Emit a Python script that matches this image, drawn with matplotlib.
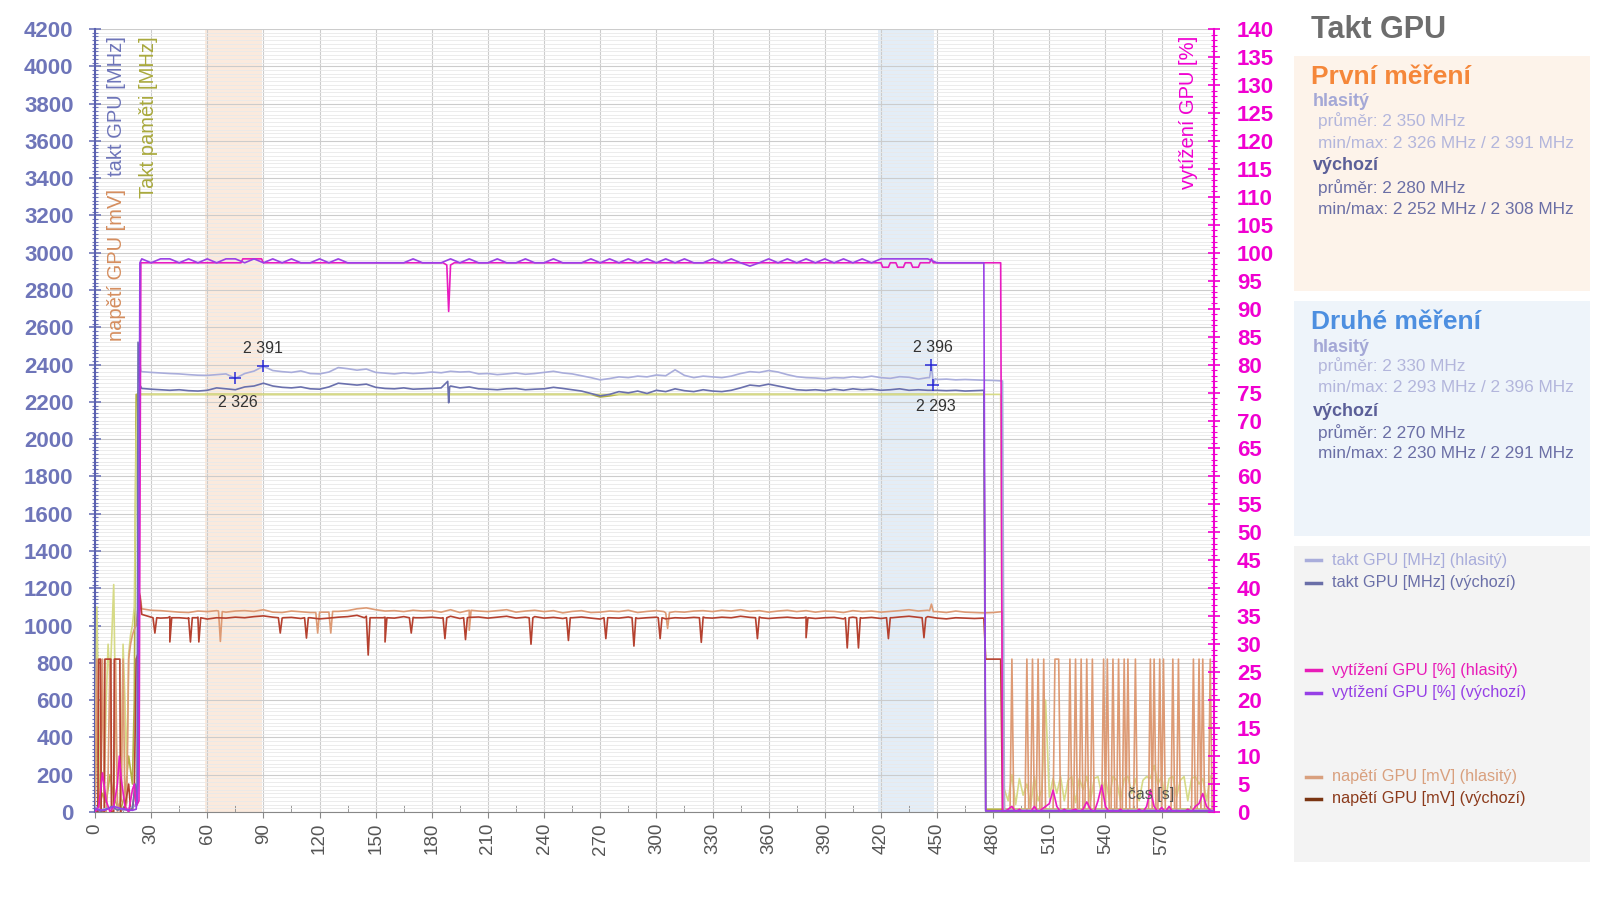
import matplotlib.pyplot as plt
import matplotlib.ticker as mticker
from matplotlib.patches import Rectangle
from matplotlib.lines import Line2D

# DATA

# time grids [s]
T_DEFAULT = list(range(25, 480, 5))      # vychozi run, 25..475
T_LOUD = list(range(25, 490, 5))         # hlasity run, 25..485
T_TAIL_1S = list(range(487, 599))        # idle part, 1 s samples
T_TAIL_2S = list(range(486, 599, 2))     # idle part, 2 s samples

# takt GPU [MHz] (hlasity)
clock_loud_start_t = [0, 3, 6, 9, 12, 15, 18, 21, 22.5, 23.5, 24.5]
clock_loud_start_v = [30, 10, 20, 15, 25, 10, 20, 30, 60, 2450, 2365]
clock_loud = [
    2362, 2358, 2355, 2352, 2350, 2346, 2343, 2342, 2346, 2350,
    2326, 2352, 2365, 2391, 2368, 2362, 2358, 2366, 2352, 2350,
    2360, 2384, 2378, 2370, 2376, 2358, 2354, 2350, 2356, 2352,
    2355, 2360, 2356, 2364, 2360, 2362, 2350, 2352, 2346, 2350,
    2355, 2348, 2352, 2358, 2364, 2355, 2350, 2340, 2330, 2318,
    2325, 2334, 2330, 2338, 2334, 2344, 2340, 2372, 2342, 2330,
    2338, 2334, 2330, 2338, 2352, 2362, 2358, 2368, 2360, 2346,
    2335, 2330, 2328, 2324, 2330, 2328, 2335, 2330, 2338, 2330,
    2326, 2335, 2332, 2322, 2330, 2320, 2322, 2318, 2320, 2318,
    2316, 2315, 2312,
]
clock_loud_extra_t = [446, 447, 448, 449, 486, 598]
clock_loud_extra_v = [2330, 2396, 2293, 2325, 10, 10]

# takt GPU [MHz] (vychozi)
clock_def_start_t = [0, 3, 6, 9, 12, 15, 18, 20, 21.5, 22.5, 23, 24]
clock_def_start_v = [20, 5, 15, 30, 10, 20, 5, 15, 150, 40, 2520, 2290]
clock_def = [
    2272, 2268, 2265, 2262, 2265, 2260, 2258, 2262, 2275, 2270,
    2265, 2280, 2285, 2300, 2285, 2278, 2275, 2280, 2270, 2268,
    2280, 2300, 2295, 2290, 2295, 2278, 2272, 2270, 2275, 2268,
    2270, 2272, 2275, 2285, 2275, 2280, 2270, 2268, 2265, 2270,
    2272, 2265, 2268, 2270, 2278, 2272, 2265, 2258, 2245, 2232,
    2240, 2255, 2248, 2258, 2245, 2262, 2255, 2270, 2260, 2255,
    2265, 2258, 2255, 2262, 2275, 2290, 2285, 2295, 2285, 2275,
    2265, 2262, 2265, 2260, 2268, 2262, 2270, 2265, 2268, 2262,
    2265, 2270, 2262, 2265, 2262, 2262, 2260, 2262, 2258, 2260,
    2262,
]
clock_def_extra_t = [188.5, 189, 189.5, 476, 598]
clock_def_extra_v = [2310, 2195, 2280, 5, 5]

# takt pameti [MHz]
mem_def_t = [0, 1, 2, 3, 4, 6, 8, 10, 12, 14, 16, 18, 20, 21,
             22, 265, 270, 275, 280, 475, 476, 598]
mem_def_v = [0, 600, 200, 50, 100, 50, 200, 80, 30, 20, 100, 300, 150, 600,
             2240, 2240, 2226, 2232, 2240, 2240, 15, 15]
mem_loud_t = [0, 1, 2, 3, 4, 5, 6, 7, 8, 9, 10, 11, 12, 13, 14, 15, 16,
              17, 18, 19, 20, 21, 22, 23, 484, 485]
mem_loud_v = [0, 1100, 500, 100, 200, 150, 600, 900, 700, 950, 1220, 500,
              50, 20, 150, 900, 600, 200, 850, 950, 1000, 1100, 2000, 2240,
              2240, 150]
mem_loud_tail = [
    120, 60, 200, 40, 180, 90, 150, 30, 190, 60,
    120, 600, 80, 180, 100, 190, 60, 170, 190, 50,
    180, 120, 190, 60, 180, 190, 90, 180, 70, 190,
    170, 60, 180, 190, 100, 180, 60, 170, 190, 180,
    250, 150, 190, 60, 180, 190, 80, 170, 190, 60,
    180, 190, 150, 180, 60, 190, 180,
]

# napeti GPU [mV] (hlasity)
volt_loud_start_t = [0, 1, 2, 3, 4, 5, 6, 7, 8, 9, 10, 11, 12, 13, 14, 15,
                     16, 17, 18, 19, 20, 21, 22, 23, 24]
volt_loud_start_v = [0, 820, 50, 0, 820, 20, 0, 200, 820, 0, 30, 820, 0, 40,
                     60, 820, 10, 50, 820, 900, 950, 980, 1000, 1100, 1170]
volt_loud = [
    1090, 1082, 1080, 1076, 1072, 1070, 1078, 1075, 1080, 1072,
    1078, 1080, 1076, 1085, 1072, 1070, 1078, 1074, 1070, 1068,
    1072, 1076, 1080, 1090, 1095, 1085, 1078, 1080, 1075, 1082,
    1078, 1080, 1072, 1085, 1070, 1082, 1078, 1075, 1080, 1085,
    1072, 1078, 1082, 1075, 1080, 1068, 1076, 1080, 1070, 1072,
    1078, 1075, 1082, 1070, 1076, 1080, 1068, 1075, 1072, 1078,
    1080, 1075, 1082, 1078, 1085, 1076, 1080, 1072, 1078, 1082,
    1075, 1080, 1072, 1078, 1076, 1070, 1080, 1075, 1078, 1072,
    1076, 1080, 1085, 1078, 1082, 1075, 1070, 1078, 1072, 1070,
    1068, 1070, 1075,
]
volt_loud_dip_t = [66, 67, 68, 118, 119, 120, 125, 126, 127, 199, 200, 201,
                   304, 306, 307, 446, 447, 448, 486]
volt_loud_dip_v = [1078, 915, 1075, 1070, 960, 1072, 1072, 960, 1076, 1080,
                   975, 1082, 1075, 985, 1070, 1080, 1115, 1075, 0]
volt_loud_tail = [
    0, 0, 0, 820, 0, 0, 0, 0, 0, 0,
    0, 820, 0, 0, 820, 0, 0, 820, 0, 0,
    820, 0, 0, 0, 0, 0, 820, 820, 820, 0,
    0, 0, 0, 0, 820, 0, 0, 820, 0, 0,
    820, 0, 0, 820, 0, 0, 820, 0, 0, 0,
    0, 0, 820, 0, 820, 0, 0, 820, 0, 0,
    820, 0, 0, 820, 0, 820, 0, 0, 0, 820,
    0, 0, 0, 0, 0, 0, 0, 820, 0, 820,
    0, 0, 820, 0, 820, 0, 0, 0, 0, 820,
    0, 0, 820, 0, 0, 0, 0, 0, 0, 0,
    820, 0, 0, 820, 0, 820, 0, 0, 0, 820,
    0, 0,
]

# napeti GPU [mV] (vychozi)
volt_def_start_t = [0, 1.5, 2, 3, 3.3, 5, 5.3, 8.5, 8.8, 10, 10.3, 13.3,
                    13.6, 16, 18, 19, 20, 21, 22, 23, 24]
volt_def_start_v = [0, 0, 820, 820, 0, 0, 820, 820, 0, 0, 820, 820, 0, 30,
                    150, 20, 10, 100, 820, 850, 1160]
volt_def = [
    1060, 1045, 1040, 1048, 1042, 1038, 1045, 1035, 1042, 1040,
    1045, 1042, 1048, 1052, 1045, 1040, 1044, 1038, 1042, 1036,
    1040, 1045, 1048, 1055, 1050, 1042, 1045, 1040, 1048, 1044,
    1042, 1045, 1040, 1050, 1038, 1044, 1046, 1040, 1045, 1050,
    1040, 1045, 1048, 1040, 1044, 1038, 1042, 1046, 1040, 1035,
    1042, 1040, 1046, 1038, 1042, 1045, 1036, 1042, 1040, 1044,
    1046, 1040, 1045, 1042, 1050, 1044, 1046, 1038, 1042, 1045,
    1040, 1046, 1038, 1042, 1044, 1036, 1045, 1040, 1044, 1038,
    1042, 1046, 1050, 1044, 1048, 1040, 1036, 1042, 1040, 1038,
    1040,
]
volt_def_dip_t = [31, 32, 33, 39, 40, 41, 50, 51, 52, 54.5, 55.5, 56.5,
                  98, 99, 100.5, 112, 113, 114, 144, 146, 147, 154, 155, 156,
                  168, 169, 171, 186, 187, 188, 197, 198, 199, 232, 233, 234,
                  252, 253, 254, 272, 273, 274, 287, 288, 289, 301, 302, 303,
                  323, 324, 326, 353, 354, 356, 379, 380, 381, 401, 402, 403,
                  407, 408, 409, 423, 424, 426, 442, 443, 444,
                  476, 484, 485, 598]
volt_def_dip_v = [1042, 960, 1042, 1042, 912, 1042, 1042, 912, 1042, 1042,
                  912, 1042, 1042, 960, 1042, 1042, 933, 1042, 1042, 842,
                  1042, 1042, 912, 1042, 1042, 960, 1042, 1042, 930, 1042,
                  1042, 925, 1042, 1042, 900, 1042, 1042, 920, 1042, 1042,
                  930, 1042, 1042, 890, 1042, 1042, 930, 1042, 1042, 910,
                  1042, 1042, 930, 1042, 1042, 935, 1042, 1042, 880, 1042,
                  1042, 880, 1042, 1042, 930, 1042, 1042, 935, 1042,
                  820, 820, 0, 0]

# vytizeni GPU [%] (hlasity)
util_loud_t = [0, 2, 4, 6, 8, 10, 12, 13, 14, 16, 18, 20, 21, 22, 23.5,
               24.5, 78, 79, 89, 90, 186, 188, 189, 190, 192, 420, 421, 424,
               425, 428, 429, 432, 433, 436, 437, 440, 441, 446, 447, 448,
               484, 485]
util_loud_v = [0, 1, 7, 2, 0, 1, 5, 10, 6, 1, 0, 4, 5, 1, 2,
               98.2, 98.2, 98.9, 98.9, 98.2, 98.2, 97.8, 89.5, 97.8, 98.2,
               98.2, 97.4, 97.4, 98.2, 98.2, 97.4, 97.4, 98.2, 98.2, 97.4,
               97.4, 98.2, 98.2, 98.9, 98.2, 98.2, 0]
util_loud_tail = [
    0, 0.5, 1, 0, 0.5, 0, 0.3, 0, 1, 0,
    0.5, 1, 1.5, 3.9, 1, 0, 0.5, 0, 0.3, 0.5,
    0, 0.5, 1.8, 0.5, 0, 2, 4.8, 1, 0, 0.3,
    0, 0.5, 0, 0.3, 0, 0, 0.5, 0, 1, 4,
    1, 0, 0.8, 0, 1, 0, 0.3, 0, 0, 0.5,
    0, 1, 1.5, 3.3, 1, 0.3, 0,
]

# vytizeni GPU [%] (vychozi)
util_def_start_t = [0, 5, 10, 15, 20, 22, 23, 24]
util_def_start_v = [0.5, 0.3, 1, 0.5, 0.3, 0.5, 5, 98.2]
util_def = [
    98.9, 98.2, 98.9, 98.9, 98.2, 98.9, 98.2, 98.9, 98.2, 98.9,
    98.9, 98.2, 98.9, 98.2, 98.9, 98.2, 98.9, 98.2, 98.2, 98.9,
    98.2, 98.9, 98.2, 98.2, 98.2, 98.2, 98.2, 98.2, 98.2, 98.9,
    98.2, 98.2, 98.2, 98.9, 98.2, 98.9, 98.2, 98.2, 98.9, 98.2,
    98.2, 98.9, 98.2, 98.2, 98.9, 98.2, 98.2, 98.2, 98.9, 98.2,
    98.9, 98.2, 98.9, 98.2, 98.9, 98.2, 98.9, 98.2, 98.9, 98.2,
    98.2, 98.9, 98.2, 98.9, 98.2, 97.6, 98.2, 98.9, 98.2, 98.9,
    98.2, 98.9, 98.2, 98.9, 98.2, 98.9, 98.2, 98.9, 98.2, 98.9,
    98.9, 98.9, 98.9, 98.9, 98.9, 98.2, 98.2, 98.2, 98.2, 98.2,
    98.2,
]
util_def_end_t = [476, 598]
util_def_end_v = [0.2, 0.2]

# min / max markers
mark_t = [75, 90, 447, 448]
mark_v = [2326, 2391, 2396, 2293]
mark_labels = ["2 326", "2 391", "2 396", "2 293"]
mark_offsets = [(3, -24), (0, 18), (1, 18), (3, -22)]

# highlighted measuring windows [s]
window_first = (59, 89)
window_second = (418.5, 448.5)

# side panel texts
panel_first = ["2 350 MHz", "2 326 MHz / 2 391 MHz", "2 280 MHz", "2 252 MHz / 2 308 MHz"]
panel_second = ["2 330 MHz", "2 293 MHz / 2 396 MHz", "2 270 MHz", "2 230 MHz / 2 291 MHz"]

legend_labels = [
    "takt GPU [MHz] (hlasitý)", "takt GPU [MHz] (výchozí)",
    "vytížení GPU [%] (hlasitý)", "vytížení GPU [%] (výchozí)",
    "napětí GPU [mV] (hlasitý)", "napětí GPU [mV] (výchozí)",
]

# COLOURS

C_CLOCK_LOUD = "#a9addb"
C_CLOCK_DEF = "#6a70ad"
C_MEM_DEF = "#b3b043"
C_MEM_LOUD = "#d6da86"
C_VOLT_LOUD = "#dd9a74"
C_VOLT_DEF = "#b5412f"
C_UTIL_LOUD = "#e81cc0"
C_UTIL_DEF = "#9a40e6"
C_LEFT = "#6e75b9"
C_RIGHT = "#f000d0"

W, H = 1600, 898


def merge(*parts):
    pts = []
    for t, v in parts:
        pts += list(zip(t, v))
    pts.sort(key=lambda p: p[0])
    return [p[0] for p in pts], [p[1] for p in pts]


def fx(x):
    return x / W


def fy(y):
    return 1 - y / H


def main():

    plt.rcParams["font.family"] = ["Liberation Sans", "DejaVu Sans"]

    fig = plt.figure(figsize=(16, 8.98), dpi=100)

    ax = fig.add_axes([fx(95), fy(812), (1214 - 95) / W, (812 - 29) / H])
    ax2 = ax.twinx()

    # SHADED WINDOWS

    ax.axvspan(*window_first, color="#fbeadd", zorder=0, lw=0)
    ax.axvspan(*window_second, color="#e3edf7", zorder=0, lw=0)

    # LEFT AXIS LINES

    lw = 1.2

    t, v = merge((mem_def_t, mem_def_v))
    ax.plot(t, v, color=C_MEM_DEF, lw=lw, zorder=3)

    t, v = merge((mem_loud_t, mem_loud_v), (T_TAIL_2S, mem_loud_tail))
    ax.plot(t, v, color=C_MEM_LOUD, lw=lw, zorder=3)

    t, v = merge((volt_loud_start_t, volt_loud_start_v), (T_LOUD, volt_loud),
                 (volt_loud_dip_t, volt_loud_dip_v), (T_TAIL_1S, volt_loud_tail))
    ax.plot(t, v, color=C_VOLT_LOUD, lw=lw, zorder=3)

    t, v = merge((volt_def_start_t, volt_def_start_v), (T_DEFAULT, volt_def),
                 (volt_def_dip_t, volt_def_dip_v))
    ax.plot(t, v, color=C_VOLT_DEF, lw=lw, zorder=3)

    t, v = merge((clock_loud_start_t, clock_loud_start_v), (T_LOUD, clock_loud),
                 (clock_loud_extra_t, clock_loud_extra_v))
    ax.plot(t, v, color=C_CLOCK_LOUD, lw=lw, zorder=4)

    t, v = merge((clock_def_start_t, clock_def_start_v), (T_DEFAULT, clock_def),
                 (clock_def_extra_t, clock_def_extra_v))
    ax.plot(t, v, color=C_CLOCK_DEF, lw=lw, zorder=4)

    # MARKERS

    ax.plot(mark_t, mark_v, "+", color="#2b2bd6", ms=8, mew=1.1, zorder=6)

    for mt, mv, lab, off in zip(mark_t, mark_v, mark_labels, mark_offsets):
        ax.annotate(lab, (mt, mv), xytext=off, textcoords="offset pixels",
                    ha="center", va="center", fontsize=11.5, color="#333333")

    # RIGHT AXIS LINES

    t, v = merge((util_loud_t, util_loud_v), (T_TAIL_2S, util_loud_tail))
    ax2.plot(t, v, color=C_UTIL_LOUD, lw=lw, zorder=5)

    t, v = merge((util_def_start_t, util_def_start_v), (T_DEFAULT, util_def),
                 (util_def_end_t, util_def_end_v))
    ax2.plot(t, v, color=C_UTIL_DEF, lw=lw, zorder=5)

    # AXES

    ax.set_xlim(0, 598)
    ax.set_ylim(0, 4200)
    ax2.set_ylim(0, 140)

    ax.xaxis.set_major_locator(mticker.MultipleLocator(30))
    ax.xaxis.set_minor_locator(mticker.MultipleLocator(15))
    ax.yaxis.set_major_locator(mticker.MultipleLocator(200))
    ax.yaxis.set_minor_locator(mticker.MultipleLocator(20))
    ax2.yaxis.set_major_locator(mticker.MultipleLocator(5))
    ax2.yaxis.set_minor_locator(mticker.MultipleLocator(1))

    ax.grid(True, which="major", color="#cccccc", lw=0.8, zorder=1)
    ax.grid(True, which="minor", axis="y", color="#e9e9e9", lw=0.6, zorder=1)
    ax.set_axisbelow(True)

    ax.tick_params(axis="y", which="major", direction="inout", length=9,
                   width=1.2, color=C_LEFT, labelcolor=C_LEFT, labelsize=16,
                   pad=11)
    ax.tick_params(axis="y", which="minor", direction="inout", length=5,
                   width=0.8, color=C_LEFT)
    for lab in ax.get_yticklabels():
        lab.set_fontweight("bold")

    ax.tick_params(axis="x", which="major", direction="out", length=4,
                   color="#888888", labelcolor="#555555", labelsize=13.5,
                   labelrotation=90, pad=4)
    ax.tick_params(axis="x", which="minor", direction="in", length=5,
                   color="#888888")

    ax2.tick_params(axis="y", which="major", direction="inout", length=9,
                    width=1.2, color=C_RIGHT, labelcolor=C_RIGHT, labelsize=16,
                    pad=12)
    ax2.tick_params(axis="y", which="minor", direction="inout", length=5,
                    width=0.8, color=C_RIGHT)
    for lab in ax2.get_yticklabels():
        lab.set_fontweight("bold")

    for s in ["top", "right"]:
        ax.spines[s].set_visible(False)
    for s in ["top", "left", "bottom"]:
        ax2.spines[s].set_visible(False)
    ax.spines["left"].set_color("#5a60b0")
    ax.spines["left"].set_linewidth(1.5)
    ax.spines["bottom"].set_color("#888888")
    ax2.spines["right"].set_color(C_RIGHT)
    ax2.spines["right"].set_linewidth(1.5)

    # AXIS TITLES INSIDE THE PLOT

    fig.text(fx(117), fy(36), "takt GPU [MHz]", rotation=90, ha="center",
             va="top", color=C_LEFT, fontsize=14.5)
    fig.text(fx(148), fy(36), "Takt paměti [MHz]", rotation=90, ha="center",
             va="top", color="#a9a93c", fontsize=14.5)
    fig.text(fx(117), fy(189), "napětí GPU [mV]", rotation=90, ha="center",
             va="top", color="#d58e5f", fontsize=14.5)
    fig.text(fx(1189), fy(36), "vytížení GPU [%]", rotation=90, ha="center",
             va="top", color=C_RIGHT, fontsize=14.5)
    fig.text(fx(1151), fy(795), "čas [s]", ha="center", va="center",
             color="#555555", fontsize=11.5)

    # SIDE PANEL

    fig.text(fx(1311), fy(30), "Takt GPU", ha="left", va="center",
             color="#6d6d6d", fontsize=22, fontweight="bold")

    boxes = [(56, 291, "#fdf3ea"), (301, 536, "#eef4fa"), (546, 862, "#f3f3f3")]
    for y0, y1, col in boxes:
        fig.add_artist(Rectangle((fx(1294), fy(y1)), (1590 - 1294) / W,
                                 (y1 - y0) / H, transform=fig.transFigure,
                                 facecolor=col, edgecolor="none", zorder=0))

    blocks = [
        ("První měření", "#f5873a", 77, panel_first),
        ("Druhé měření", "#4d8fe0", 322, panel_second),
    ]
    for title, col, y0, vals in blocks:
        fig.text(fx(1311), fy(y0), title, ha="left", va="center", color=col,
                 fontsize=19, fontweight="bold")
        fig.text(fx(1313), fy(y0 + 25), "hlasitý", ha="left", va="center",
                 color="#a4a8d6", fontsize=13, fontweight="bold")
        fig.text(fx(1318), fy(y0 + 44), "průměr: " + vals[0], ha="left",
                 va="center", color="#b3b6dc", fontsize=12.4)
        fig.text(fx(1318), fy(y0 + 66), "min/max: " + vals[1], ha="left",
                 va="center", color="#b3b6dc", fontsize=12.4)
        fig.text(fx(1313), fy(y0 + 89), "výchozí", ha="left", va="center",
                 color="#5b5f98", fontsize=13, fontweight="bold")
        fig.text(fx(1318), fy(y0 + 111), "průměr: " + vals[2], ha="left",
                 va="center", color="#6b6fa6", fontsize=12.4)
        fig.text(fx(1318), fy(y0 + 132), "min/max: " + vals[3], ha="left",
                 va="center", color="#6b6fa6", fontsize=12.4)

    # LEGEND

    legend_y = [560, 583, 670, 693, 777, 799]
    legend_line = ["#a9addb", "#6a6fa8", "#e81cb8", "#9640e6", "#d9a07e", "#7a3512"]
    legend_text = ["#a9addb", "#6a6fa8", "#e81cb8", "#9640e6", "#d9a07e", "#8c3b1c"]
    for yy, lab, lc, tc in zip(legend_y, legend_labels, legend_line, legend_text):
        fig.add_artist(Line2D([fx(1306), fx(1321)], [fy(yy), fy(yy)],
                              transform=fig.transFigure, color=lc, lw=2.5))
        fig.text(fx(1332), fy(yy), lab, ha="left", va="center", color=tc,
                 fontsize=11.7)

    fig.savefig("out.png", dpi=100)


if __name__ == "__main__":

    main()
